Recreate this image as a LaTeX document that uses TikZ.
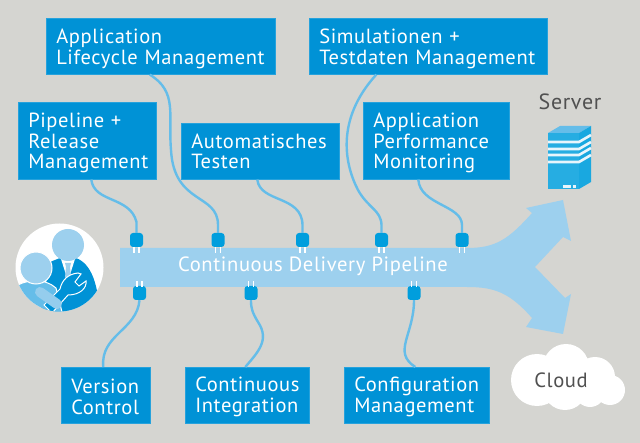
\documentclass[tikz,border=0pt]{standalone}
\usepackage{xcolor}
\usepackage{fontspec}
\setmainfont[LetterSpace=3]{PT Sans}
\usetikzlibrary{positioning}
\definecolor{paper}{HTML}{D5D5D1}
\definecolor{boxblue}{HTML}{0092D6}
\definecolor{pipeblue}{HTML}{9DD0EE}
\definecolor{cableblue}{HTML}{65BDE9}
\definecolor{plugblue}{HTML}{009EDD}
\definecolor{darktext}{HTML}{505050}

\begin{document}
\begin{tikzpicture}[x=1pt,y=-1pt,
    infobox/.style={rectangle, fill=boxblue, draw=boxblue!85!white, line width=0.6pt, anchor=north west,
      text=white, align=left, inner xsep=10pt, inner ysep=0pt, font=\fontsize{20.5}{20.8}\selectfont},
    plug/.style={rectangle, fill=plugblue, rounded corners=3pt, minimum width=13pt, minimum height=14pt, inner sep=0pt},
    prong/.style={draw=white, line width=1.7pt},
    cable/.style={draw=cableblue, line width=2.4pt}]

  \useasboundingbox (0,0) rectangle (640,443);
  \fill[paper] (0,0) rectangle (640,443);

  % pipeline with its two arrow heads
  \fill[pipeblue] (120,248) -- (467,248) .. controls (495,248) and (508,240) .. (532,213)
    -- (526,208) -- (563,200) -- (571,241) -- (563,237) -- (535,267) -- (565,298) -- (571,294)
    -- (563,334) -- (526,327) -- (532,318) .. controls (510,293) and (495,287) .. (467,287) -- (120,287) -- cycle;
  \node[text=white, font=\fontsize{20.6}{21}\selectfont] (pipe) at (313,266.5) {Continuous Delivery Pipeline};

  \node[infobox, text width=209pt, minimum height=56pt] (alm) at (46,18) {\rule{0pt}{19pt}Application\\Lifecycle Management};
  \node[infobox, text width=218pt, minimum height=56pt] (sim) at (309,18) {\rule{0pt}{19pt}Simulationen +\\Testdaten Management};
  \node[infobox, text width=118pt, minimum height=77pt] (rel) at (18,102) {\rule{0pt}{19pt}Pipeline +\\Release\\Management};
  \node[infobox, text width=138pt, minimum height=56pt] (test) at (181,123) {Automatisches\\Testen};
  \node[infobox, text width=126pt, minimum height=77pt] (perf) at (363,102) {\rule{0pt}{19pt}Application\\Performance\\Monitoring};
  \node[infobox, text width=69pt, minimum height=56pt] (vers) at (61,367) {\rule{0pt}{17pt}Version\\Control};
  \node[infobox, text width=104pt, minimum height=56pt] (ci) at (185,367) {\rule{0pt}{17pt}Continuous\\Integration};
  \node[infobox, text width=125pt, minimum height=56pt] (conf) at (344,367) {\rule{0pt}{17pt}Configuration\\Management};

  \foreach \name/\px in {p1/136.5,p2/218,p3/302.5,p4/381.5,p5/462} {
    \node[plug] (\name) at (\px,240) {};
    \draw[prong] (\px-2.5,247) -- (\px-2.5,253);
    \draw[prong] (\px+2.5,247) -- (\px+2.5,253);
  }
  \foreach \name/\px in {q1/139.5,q2/251,q3/414} {
    \node[plug] (\name) at (\px,293) {};
    \draw[prong] (\px-2.5,281.5) -- (\px-2.5,287);
    \draw[prong] (\px+2.5,281.5) -- (\px+2.5,287);
  }

  \draw[cable] ([xshift=4pt]rel.south) .. controls (94,203) and (130,196) .. (136.5,222) -- (p1.north);
  \draw[cable] ([xshift=-11pt]alm.south) .. controls (178,92) and (168,115) .. (171,150)
    .. controls (174,205) and (218,193) .. (218,225) -- (p2.north);
  \draw[cable] ([xshift=-3pt]test.south) .. controls (260,203) and (302,195) .. (302.5,225) -- (p3.north);
  \draw[cable] ([xshift=-52pt]sim.south) .. controls (335,120) and (345,165) .. (358,190)
    .. controls (368,208) and (381,210) .. (381.5,225) -- (p4.north);
  \draw[cable] ([xshift=-18pt]perf.south) .. controls (420,205) and (462,205) .. (462,225) -- (p5.north);
  \draw[cable] ([xshift=-2.5pt]vers.north) .. controls (100,335) and (137,330) .. (q1.south);
  \draw[cable] ([xshift=-2pt]ci.north) .. controls (258,352) and (270,340) .. (258,322) .. controls (252,312) and (251,308) .. (q2.south);
  \draw[cable] ([xshift=-1.5pt]conf.north) .. controls (392,352) and (414,335) .. (q3.south);

  % server
  \node[text=darktext, font=\fontsize{22}{22}\selectfont] (srv) at (570,102) {Server};
  \fill[cableblue] (548,133) -- (560,126) -- (591,126) -- (579,133) -- cycle;
  \fill[plugblue!90!white] (579,133) -- (591,126) -- (591,182) -- (579,189) -- cycle;
  \fill[plugblue!85!white] (548,133) rectangle (579,189);
  \foreach \sy in {142,149,155,162} {
    \draw[white!85!cableblue, line width=2.6pt] (548,\sy) -- (579,\sy) -- (591,\sy-7);
  }
  \fill[white!85!cableblue] (563,185) rectangle (571,188);
  \fill[white!85!cableblue] (573,185) rectangle (575.5,188);

  % cloud
  \fill[white] (537,380) circle (26) (566,367) circle (23) (595,377) circle (20)
    (610,390) circle (15) (565,388) circle (22) (590,392) circle (15);
  \node[text=darktext, font=\fontsize{20.6}{21}\selectfont] (cloud) at (561,380) {Cloud};

  % the two people with the wrench
  \fill[white] (59.5,267.5) circle (44);
  \begin{scope}
    \clip (59.5,267.5) circle (44);
    \fill[boxblue] (50,262) -- (60,258) -- (76,258) .. controls (92,264) and (98,285) .. (100,315) -- (40,315) -- cycle;
    \fill[white] (61,259) -- (75,259) -- (68,281) -- cycle;
    \fill[pipeblue] (65,263) -- (71,263) -- (70,267) -- (71,277) -- (68,281) -- (65,277) -- (66,267) -- cycle;
    \fill[cableblue, draw=white, line width=1pt] (10,305) -- (10,290) .. controls (25,278) and (45,278) .. (56,288)
      -- (64,320) -- (10,320) -- cycle;
    \fill[boxblue, draw=white, line width=1pt] (44,305) -- (60,289) .. controls (62,280) and (68,274) .. (78,273)
      -- (81,274) -- (75,282) -- (79,286) -- (86,281) .. controls (87,288) and (80,295) .. (68,295) -- (52,313) -- cycle;
    \draw[pipeblue!85!cableblue, line width=10pt, line cap=round] (40,292) -- (57,304);
    \fill[pipeblue] (68,245) circle (16);
    \fill[pipeblue, draw=white, line width=1pt] (36,268) circle (16);
  \end{scope}
\end{tikzpicture}
\end{document}
